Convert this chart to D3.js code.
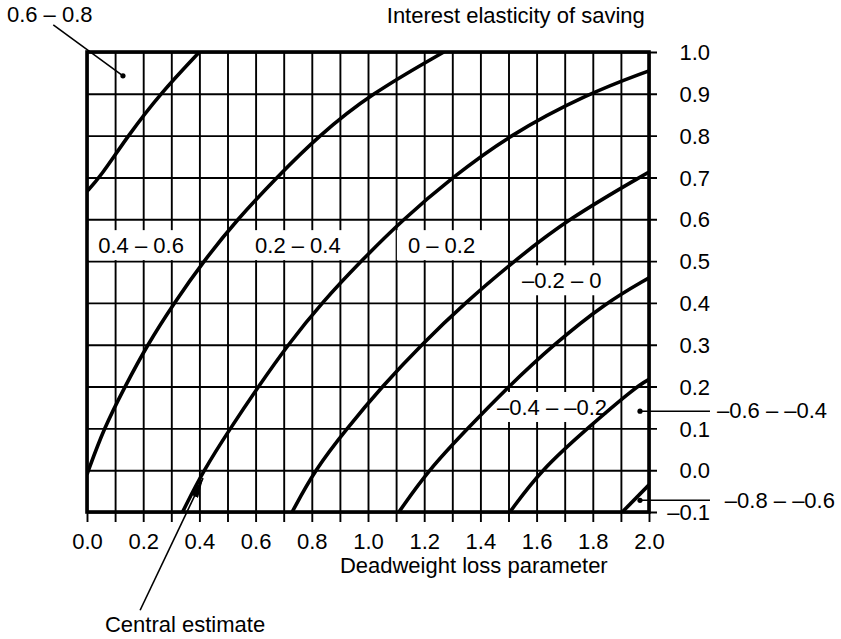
<!DOCTYPE html>
<html>
<head>
<meta charset="utf-8">
<script src="https://cdn.jsdelivr.net/npm/d3@7"></script>
<style>
  body { margin: 0; background: #fff; }
  svg text { font-family: "Liberation Sans", Arial, Helvetica, sans-serif; font-size: 22px; fill: #000; }
</style>
</head>
<body>
<div id="chart"></div>
<script>
// axis ticks
var xTicks = [0.0, 0.1, 0.2, 0.3, 0.4, 0.5, 0.6, 0.7, 0.8, 0.9, 1.0, 1.1, 1.2, 1.3, 1.4, 1.5, 1.6, 1.7, 1.8, 1.9, 2.0];
var xTickLabels = ["0.0", "", "0.2", "", "0.4", "", "0.6", "", "0.8", "", "1.0", "", "1.2", "", "1.4", "", "1.6", "", "1.8", "", "2.0"];
var yTicks = [-0.1, 0.0, 0.1, 0.2, 0.3, 0.4, 0.5, 0.6, 0.7, 0.8, 0.9, 1.0];
var yTickLabels = ["–0.1", "0.0", "0.1", "0.2", "0.3", "0.4", "0.5", "0.6", "0.7", "0.8", "0.9", "1.0"];

// boundary lines between the bands, [deadweight loss, interest elasticity]
var bound06 = [[0.00, 0.667], [0.046, 0.70], [0.146, 0.80], [0.26, 0.90], [0.40, 1.00]];
var bound04 = [[0.00, -0.01], [0.06, 0.10], [0.135, 0.20], [0.215, 0.30], [0.31, 0.40], [0.415, 0.50], [0.535, 0.60], [0.675, 0.70], [0.825, 0.80], [1.01, 0.90], [1.27, 1.00]];
var bound02 = [[0.34, -0.10], [0.415, 0.00], [0.51, 0.10], [0.61, 0.20], [0.715, 0.30], [0.835, 0.40], [0.975, 0.50], [1.125, 0.60], [1.30, 0.70], [1.50, 0.80], [1.78, 0.90], [2.00, 0.955]];
var bound00 = [[0.73, -0.10], [0.81, 0.00], [0.925, 0.10], [1.05, 0.20], [1.19, 0.30], [1.345, 0.40], [1.52, 0.50], [1.71, 0.60], [2.00, 0.713]];
var boundM02 = [[1.11, -0.10], [1.215, 0.00], [1.355, 0.10], [1.50, 0.20], [1.66, 0.30], [1.845, 0.40], [2.00, 0.46]];
var boundM04 = [[1.505, -0.10], [1.615, 0.00], [1.78, 0.10], [1.955, 0.20], [2.00, 0.217]];
var boundM06 = [[1.905, -0.10], [2.00, -0.035]];
var boundaries = [bound06, bound04, bound02, bound00, boundM02, boundM04, boundM06];

// band labels inside the grid (boxed)
var bandLabels = [
  { text: "0.4 – 0.6", x: 0.04, y: 0.519, left: 0.0 },
  { text: "0.2 – 0.4", x: 0.598, y: 0.519 },
  { text: "0 – 0.2", x: 1.142, y: 0.519 },
  { text: "–0.2 – 0", x: 1.548, y: 0.435 },
  { text: "–0.4 – –0.2", x: 1.459, y: 0.132 }
];
// labels with leader lines
var leaderLabels = [
  { text: "0.6 – 0.8", x: -0.285, y: 1.072, from: [-0.12, 1.065], to: [0.128, 0.943] },
  { text: "–0.6 – –0.4", x: 2.242, y: 0.124, from: [2.217, 0.141], to: [1.968, 0.141] },
  { text: "–0.8 – –0.6", x: 2.27, y: -0.091, from: [2.217, -0.072], to: [1.968, -0.072] }
];
var centralEstimate = { text: "Central estimate", x: 0.064, y: -0.388, from: [0.189, -0.335], to: [0.413, -0.019] };
var yTitle = { text: "Interest elasticity of saving", x: 1.985, y: 1.07 };
var xTitle = { text: "Deadweight loss parameter", x: 0.9, y: -0.246 };

var W = 841, H = 639,
    margin = {top: 52, right: 192, bottom: 127, left: 87},
    width = W - margin.left - margin.right,
    height = H - margin.top - margin.bottom;

var x = d3.scaleLinear().domain([0, 2]).range([margin.left, margin.left + width]);
var y = d3.scaleLinear().domain([-0.1, 1.0]).range([margin.top + height, margin.top]);

var svg = d3.select("#chart").append("svg").attr("width", W).attr("height", H);

svg.append("defs").append("clipPath").attr("id", "plotClip")
  .append("rect").attr("x", x(0)).attr("y", y(1)).attr("width", width).attr("height", height);

var arrow = svg.select("defs").append("marker")
    .attr("id", "arrowHead").attr("markerUnits", "userSpaceOnUse")
    .attr("viewBox", "0 0 20 8").attr("refX", 20).attr("refY", 4)
    .attr("markerWidth", 20).attr("markerHeight", 8).attr("orient", "auto");
arrow.append("path").attr("d", "M0,0 L20,4 L0,8 Z").attr("fill", "#000");

// vertical grid + bottom ticks
var xAxis = svg.append("g")
    .attr("transform", "translate(0," + y(1.0) + ")")
    .call(d3.axisBottom(x).tickValues(xTicks).tickSize(height + 10).tickPadding(11)
      .tickFormat(function(d, i) { return xTickLabels[i]; }));
xAxis.select(".domain").remove();
xAxis.selectAll(".tick line").attr("stroke-width", 1.9);

var boxLayer = svg.append("g");

// horizontal grid + right ticks
var yAxis = svg.append("g")
    .attr("transform", "translate(" + x(0) + ",0)")
    .call(d3.axisRight(y).tickValues(yTicks).tickSize(width + 8)
      .tickFormat(function(d, i) { return yTickLabels[i]; }));
yAxis.select(".domain").remove();
yAxis.selectAll(".tick line").attr("stroke-width", 1.9);
yAxis.selectAll(".tick text").attr("text-anchor", "end").attr("x", 623).attr("dy", "0.35em");

// boundary curves
var line = d3.line()
    .x(function(d) { return x(d[0]); })
    .y(function(d) { return y(d[1]); })
    .curve(d3.curveBasis);

svg.append("g").attr("clip-path", "url(#plotClip)")
  .selectAll("path").data(boundaries).enter().append("path")
    .attr("d", line)
    .attr("fill", "none")
    .attr("stroke", "#000")
    .attr("stroke-width", 3.6);

// frame
svg.append("rect")
    .attr("x", x(0)).attr("y", y(1)).attr("width", width).attr("height", height)
    .attr("fill", "none").attr("stroke", "#000").attr("stroke-width", 3.6);

// band labels with white boxes hiding the grid behind
var textLayer = svg.append("g");
bandLabels.forEach(function(l) {
  var t = textLayer.append("text").attr("x", x(l.x)).attr("y", y(l.y)).text(l.text);
  var b = t.node().getBBox();
  var x0 = l.left !== undefined ? x(l.left) : b.x - 11;
  boxLayer.append("rect")
    .attr("x", x0).attr("y", b.y - 3)
    .attr("width", b.x + b.width + 11 - x0).attr("height", b.height + 5)
    .attr("fill", "#fff");
});

leaderLabels.forEach(function(l) {
  textLayer.append("text").attr("x", x(l.x)).attr("y", y(l.y)).text(l.text);
  textLayer.append("line")
    .attr("x1", x(l.from[0])).attr("y1", y(l.from[1]))
    .attr("x2", x(l.to[0])).attr("y2", y(l.to[1]))
    .attr("stroke", "#000").attr("stroke-width", 1.6);
  textLayer.append("circle")
    .attr("cx", x(l.to[0])).attr("cy", y(l.to[1])).attr("r", 2.6).attr("fill", "#000");
});

textLayer.append("text").attr("x", x(centralEstimate.x)).attr("y", y(centralEstimate.y)).text(centralEstimate.text);
textLayer.append("line")
    .attr("x1", x(centralEstimate.from[0])).attr("y1", y(centralEstimate.from[1]))
    .attr("x2", x(centralEstimate.to[0])).attr("y2", y(centralEstimate.to[1]))
    .attr("stroke", "#000").attr("stroke-width", 1.6)
    .attr("marker-end", "url(#arrowHead)");

textLayer.append("text").attr("x", x(yTitle.x)).attr("y", y(yTitle.y))
    .attr("text-anchor", "end").text(yTitle.text);
textLayer.append("text").attr("x", x(xTitle.x)).attr("y", y(xTitle.y)).text(xTitle.text);
</script>
</body>
</html>
